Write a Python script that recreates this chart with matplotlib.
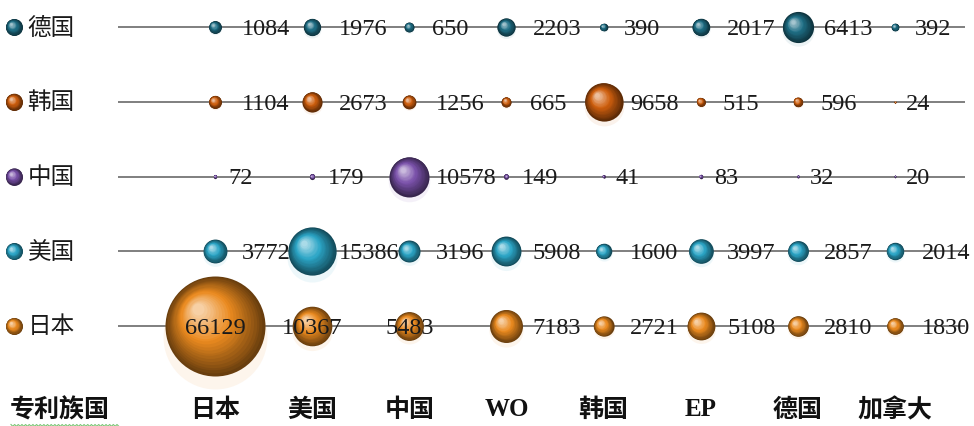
import numpy as np
import matplotlib
matplotlib.use('Agg')
import matplotlib.pyplot as plt
from matplotlib.transforms import ScaledTranslation
from matplotlib.colors import to_rgb

# 目标国家/组织（横轴）
targets = ['日本', '美国', '中国', 'WO', '韩国', 'EP', '德国', '加拿大']

# 各专利族国在各目标国的专利数量
de_counts = [1084, 1976, 650, 2203, 390, 2017, 6413, 392]
kr_counts = [1104, 2673, 1256, 665, 9658, 515, 596, 24]
cn_counts = [72, 179, 10578, 149, 41, 83, 32, 20]
us_counts = [3772, 15386, 3196, 5908, 1600, 3997, 2857, 2014]
jp_counts = [66129, 10367, 5483, 7183, 2721, 5108, 2810, 1830]

# 从下到上的行顺序
series = [
    ('日本', jp_counts, '#ea8a1f'),
    ('美国', us_counts, '#2ba5c6'),
    ('中国', cn_counts, '#7b52ab'),
    ('韩国', kr_counts, '#cf5f0e'),
    ('德国', de_counts, '#1f6f86'),
]

num_font = 'Liberation Serif'
cjk_font = ['Noto Sans CJK SC', 'DejaVu Sans']
axis_font = ['Liberation Serif', 'Noto Sans CJK SC']

fig = plt.figure(figsize=(9.74, 4.27), dpi=100)
ax = fig.add_axes([0, 0, 1, 1])
ax.set_xlim(-2.213, 7.813)
ax.set_ylim(-1.338, 4.375)
ax.axis('off')

vmax = max(jp_counts)
s_max = (2 * 50 * 0.72) ** 2  # 最大气泡面积 (pt^2)


def mix(c, other, t):
    c = np.array(c)
    return tuple(c + (np.array(other) - c) * t)


def sphere(x, y, s, color, z=3, shadow=True):
    """用多层同心圆模拟立体球体"""
    base = to_rgb(color)
    dark = mix(base, (0, 0, 0), 0.55)
    light = mix(base, (1, 1, 1), 0.6)
    r_pt = np.sqrt(s) / 2
    if shadow and r_pt > 2:
        tr = ax.transData + ScaledTranslation(0, -r_pt * 0.22 / 72, fig.dpi_scale_trans)
        ax.scatter([x], [y], s=s * 1.08, color=mix(base, (1, 1, 1), 0.55),
                   alpha=0.18, lw=0, transform=tr, zorder=z - 1)
    n = 22
    for k in range(n):
        t = k / (n - 1)
        f = 1 - 0.88 * t
        if t < 0.55:
            col = mix(dark, base, t / 0.55)
        else:
            col = mix(base, light, (t - 0.55) / 0.45)
        off = (1 - f) * 0.38 * r_pt / 72
        tr = ax.transData + ScaledTranslation(-off, off, fig.dpi_scale_trans)
        ax.scatter([x], [y], s=s * f * f, color=col, lw=0, transform=tr, zorder=z)


# 水平引导线
ax.hlines(range(len(series)), -1.0, 7.72, color='#7f7f7f', lw=1.4, zorder=1)

for row, (name, vals, color) in enumerate(series):
    for j, v in enumerate(vals):
        s = s_max * v / vmax
        sphere(j, row, s, color)
        r_pt = np.sqrt(s) / 2
        if name == '日本' and j < 3:
            ax.annotate(str(v), (j, row), xytext=(0, -1), textcoords='offset points',
                        ha='center', va='center', fontsize=17.5, family=num_font,
                        color='#1a1a1a', zorder=10)
        else:
            dx = min(19, 6 + 3 * r_pt)
            ax.annotate(str(v), (j, row), xytext=(dx, -1), textcoords='offset points',
                        ha='left', va='center', fontsize=17.5, family=num_font,
                        color='#1a1a1a', zorder=10)

    # 左侧图例
    sphere(-2.07, row, 150, color, shadow=False)
    ax.text(-1.93, row, name, ha='left', va='center', fontsize=17,
            family=cjk_font, color='#1a1a1a')

# 底部类别标签
label_y = -1.11
ax.text(-2.11, label_y, '专利族国', ha='left', va='center', fontsize=18,
        family=cjk_font, fontweight='bold', color='#111111')
for j, t in enumerate(targets):
    ax.text(j, label_y, t, ha='center', va='center', fontsize=18,
            family=axis_font, fontweight='bold', color='#111111')

# 拼写检查波浪线
wx = np.linspace(-2.10, -0.99, 60)
wy = label_y - 0.22 + 0.012 * np.where(np.arange(60) % 2 == 0, 1, -1)
ax.plot(wx, wy, color='#7cc576', lw=0.8)

fig.savefig('out.png', dpi=100)
